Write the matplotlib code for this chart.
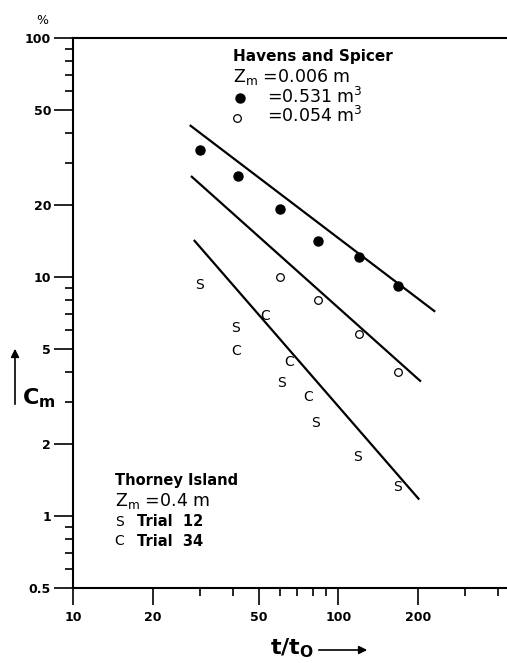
import matplotlib
matplotlib.use("Agg")
import matplotlib.pyplot as plt
from matplotlib.lines import Line2D

# DATA
# ///////////////////////////////////////////////////////////////
# Havens and Spicer, 0.531 m3 (filled circles)
hs_big_x = [30, 42, 60, 84, 120, 168]
hs_big_y = [34.1, 26.5, 19.3, 14.1, 12.1, 9.2]
# Havens and Spicer, 0.054 m3 (open circles)
hs_small_x = [60, 84, 120, 168]
hs_small_y = [10.0, 8.0, 5.8, 4.0]
# Thorney Island trial 12 (S)
ti12_x = [30, 41, 61, 82, 118, 167]
ti12_y = [9.3, 6.1, 3.6, 2.45, 1.76, 1.32]
# Thorney Island trial 34 (C)
ti34_x = [41, 53, 65, 77]
ti34_y = [4.9, 6.9, 4.4, 3.15]
# fitted lines (end points)
fit_big_x = [27.5, 232]
fit_big_y = [43.3, 7.16]
fit_small_x = [27.8, 205]
fit_small_y = [26.5, 3.65]
fit_ti_x = [28.5, 202]
fit_ti_y = [14.3, 1.17]

y_major = [0.5, 1, 2, 5, 10, 20, 50, 100]
y_labels = ["0.5", "1", "2", "5", "10", "20", "50", "100"]
y_minor = [0.6, 0.7, 0.8, 0.9, 3, 4, 6, 7, 8, 9, 30, 40, 60, 70, 80, 90]
x_major = [10, 20, 50, 100, 200]
x_labels = ["10", "20", "50", "100", "200"]
x_minor = [30, 40, 60, 70, 80, 90, 300, 400]

# STYLE
# ///////////////////////////////////////////////////////////////
plt.rcParams["font.family"] = ["DejaVu Sans"]
plt.rcParams["mathtext.fontset"] = "dejavusans"

W, H = 507, 663
fig = plt.figure(figsize=(W / 100, H / 100), dpi=100)


def px(x, y):
    # pixel position -> figure fraction
    return x / W, 1 - y / H


x0, y_top = 73.3, 38.3
y_bot = 587.7
ax = fig.add_axes([x0 / W, 1 - y_bot / H, 1 - x0 / W, (y_bot - y_top) / H])
ax.set_xscale("log")
ax.set_yscale("log")
ax.set_xlim(10, 433)
ax.set_ylim(0.5, 100)

for side in ["left", "top", "bottom"]:
    ax.spines[side].set_linewidth(1.5)
ax.spines["right"].set_visible(False)

ax.set_yticks(y_major)
ax.set_yticklabels(y_labels)
ax.set_yticks(y_minor, minor=True)
ax.set_xticks(x_major)
ax.set_xticklabels(x_labels)
ax.set_xticks(x_minor, minor=True)
ax.tick_params(axis="y", which="major", direction="out", length=14, width=1.2, pad=2,
               labelsize=9)
ax.tick_params(axis="y", which="minor", direction="out", length=6, width=1.2)
ax.tick_params(axis="x", which="major", direction="out", length=12, width=1.2, pad=5,
               labelsize=9)
ax.tick_params(axis="x", which="minor", direction="out", length=6, width=1.2)
for lab in ax.get_xticklabels() + ax.get_yticklabels():
    lab.set_fontweight("bold")

# lines
ax.plot(fit_big_x, fit_big_y, color="black", lw=1.6, solid_capstyle="butt")
ax.plot(fit_small_x, fit_small_y, color="black", lw=1.6, solid_capstyle="butt")
ax.plot(fit_ti_x, fit_ti_y, color="black", lw=1.6, solid_capstyle="butt")

# points
ax.plot(hs_big_x, hs_big_y, "o", color="black", ms=6.5, ls="none")
ax.plot(hs_small_x, hs_small_y, "o", mfc="white", mec="black", mew=0.9, ms=5.5,
        ls="none")
for x, y in zip(ti12_x, ti12_y):
    ax.text(x, y, "S", ha="center", va="center", fontsize=10)
for x, y in zip(ti34_x, ti34_y):
    ax.text(x, y, "C", ha="center", va="center", fontsize=10)

# legend texts
fig.text(*px(233, 57), "Havens and Spicer", fontsize=11, fontweight="bold", va="center")
fig.text(*px(233, 77), "Z$_\\mathregular{m}$ =0.006 m", fontsize=12.5, va="center")
fig.text(*px(267, 97), "=0.531 m$^\\mathregular{3}$", fontsize=12.5, va="center")
fig.text(*px(267, 116), "=0.054 m$^\\mathregular{3}$", fontsize=12.5, va="center")
fig.add_artist(Line2D([px(240, 98)[0]], [px(240, 98)[1]], marker="o", color="black",
                      ms=6.5, transform=fig.transFigure))
fig.add_artist(Line2D([px(237, 118)[0]], [px(237, 118)[1]], marker="o", mfc="white",
                      mec="black", mew=0.9, ms=5.5, transform=fig.transFigure))

fig.text(*px(115, 481), "Thorney Island", fontsize=10.5, fontweight="bold", va="center")
fig.text(*px(115, 501), "Z$_\\mathregular{m}$ =0.4 m", fontsize=12.5, va="center")
fig.text(*px(119, 522), "S", fontsize=10, va="center", ha="center")
fig.text(*px(137, 522), "Trial  12", fontsize=10.5, fontweight="bold", va="center")
fig.text(*px(119, 541), "C", fontsize=10, va="center", ha="center")
fig.text(*px(137, 541), "Trial  34", fontsize=10.5, fontweight="bold", va="center")

# axis labels
fig.text(*px(42, 20), "%", fontsize=9, ha="center", va="center")
fig.text(*px(22, 398), "C$_\\mathregular{m}$", fontsize=16, fontweight="bold",
         ha="left", va="center")
ax.annotate("", xy=px(15, 346), xytext=px(15, 407), xycoords="figure fraction",
            textcoords="figure fraction",
            arrowprops=dict(arrowstyle="-|>", lw=1.2, color="black", mutation_scale=12))
fig.text(*px(270, 648), "t/t$_\\mathregular{O}$", fontsize=16, fontweight="bold",
         ha="left", va="center")
ax.annotate("", xy=px(370, 650), xytext=px(316, 650), xycoords="figure fraction",
            textcoords="figure fraction",
            arrowprops=dict(arrowstyle="-|>", lw=1.2, color="black", mutation_scale=12))

fig.savefig("out.png", dpi=100)
